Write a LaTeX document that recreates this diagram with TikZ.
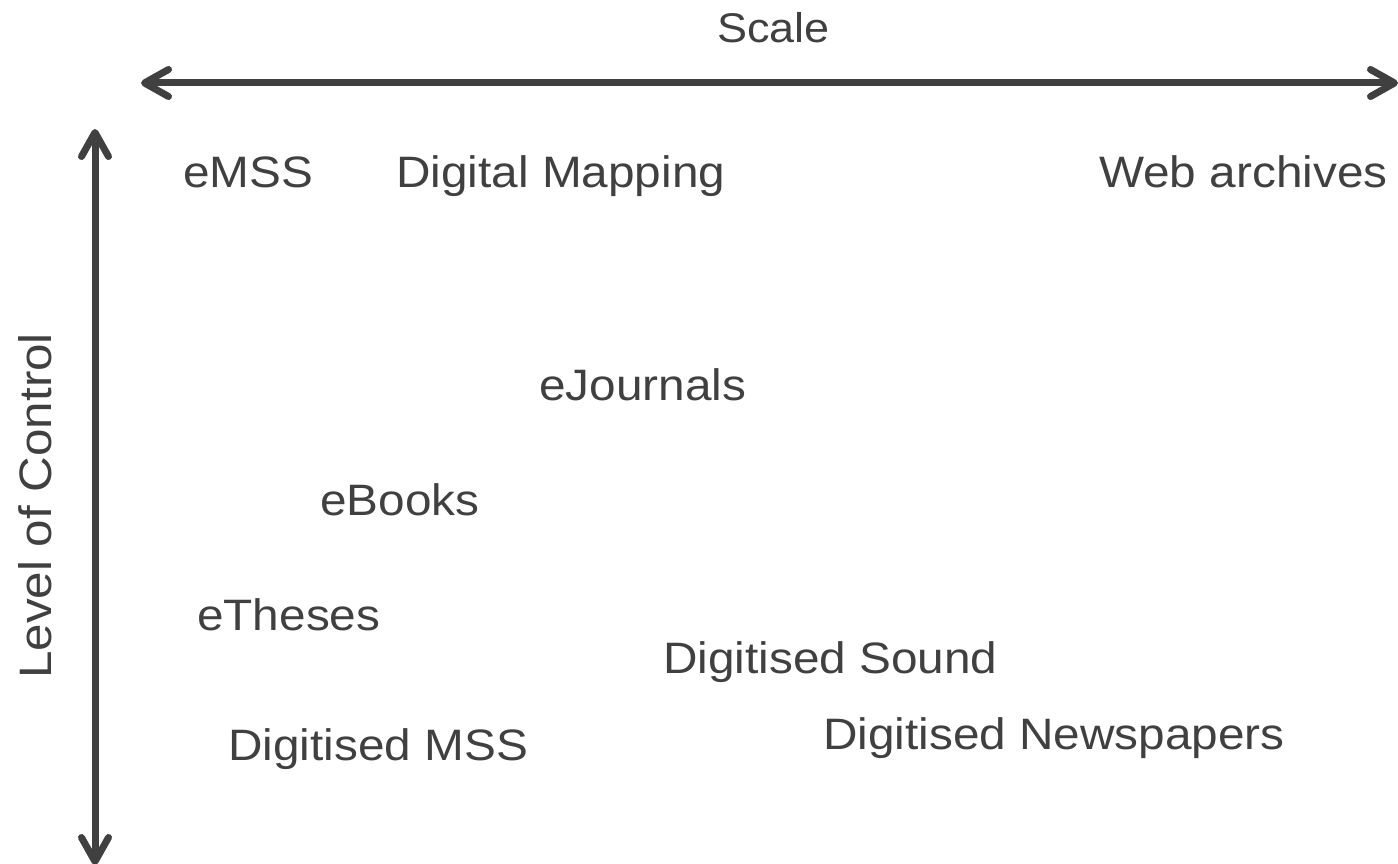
\documentclass[tikz,border=0pt]{standalone}
\usepackage{fontspec}
\setmainfont[FakeStretch=1.085]{Liberation Sans}
\usetikzlibrary{arrows.meta}
\definecolor{ink}{HTML}{404040}
\begin{document}
\begin{tikzpicture}[x=1pt,y=-1pt,
  axis/.style={draw=ink, line width=7pt, line cap=round,
    {Straight Barb[length=24pt,width=27pt,round]}-{Straight Barb[length=24pt,width=27pt,round]}},
  item/.style={anchor=base west, inner sep=0pt, text=ink,
    font=\fontsize{44}{48}\selectfont},
  title/.style={item, font=\fontsize{41.5}{46}\selectfont}]
\useasboundingbox (0,0) rectangle (1398,864);

% axes
\coordinate (scaleL) at (141,83);
\coordinate (scaleR) at (1398,83);
\coordinate (ctrlT) at (95,129);
\coordinate (ctrlB) at (95,865);
\draw[axis] (scaleL) -- (scaleR);
\draw[axis] (ctrlT) -- (ctrlB);

% axis titles
\node[title] (scale) at (717,43) {Scale};
\node[item, rotate=90, font=\fontsize{45.5}{50}\selectfont] (control) at (51.5,679) {Level of Control};

% collection types
\node[item] (emss) at (183,187.5) {eMSS};
\node[item] (mapping) at (396,187.5) {Digital Mapping};
\node[item] (web) at (1099,187.5) {Web archives};
\node[item] (ejournals) at (539,400.5) {eJournals};
\node[item] (ebooks) at (320,515.5) {eBooks};
\node[item] (etheses) at (197,630.5) {eTheses};
\node[item] (sound) at (663,673) {Digitised Sound};
\node[item] (dmss) at (228,760) {Digitised MSS};
\node[item] (news) at (823,749) {Digitised Newspapers};
\end{tikzpicture}
\end{document}
